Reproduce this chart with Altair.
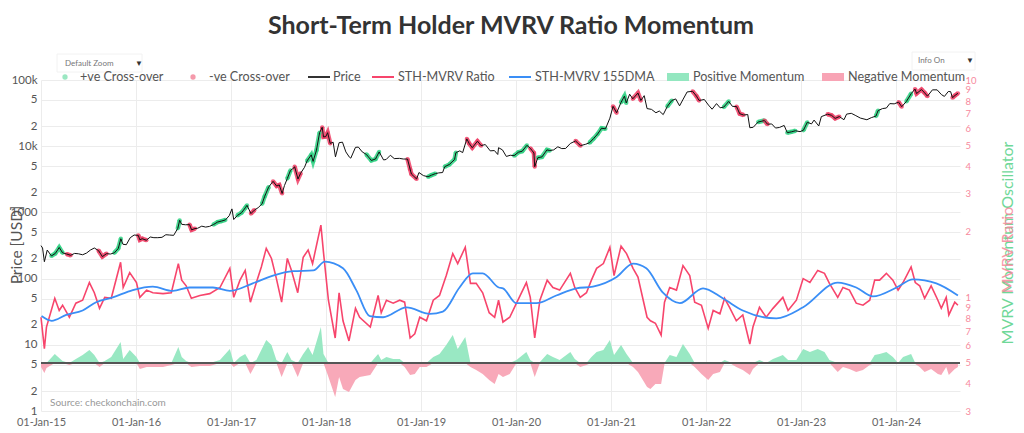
import altair as alt
import pandas as pd

TITLE = "Short-Term Holder MVRV Ratio Momentum"

# Bitcoin price (USD)
price_series = [
    ("2015-01-01", 315), ("2015-01-07", 290), ("2015-01-14", 180), ("2015-01-25", 270), ("2015-02-10", 220),
    ("2015-02-25", 240), ("2015-03-12", 295), ("2015-03-25", 245), ("2015-04-10", 235), ("2015-04-25", 225),
    ("2015-05-10", 240), ("2015-05-25", 237), ("2015-06-10", 229), ("2015-06-25", 243), ("2015-07-10", 270),
    ("2015-07-25", 290), ("2015-08-10", 265), ("2015-08-25", 215), ("2015-09-10", 238), ("2015-09-25", 235),
    ("2015-10-10", 245), ("2015-10-25", 285), ("2015-11-04", 400), ("2015-11-12", 330), ("2015-11-25", 325),
    ("2015-12-10", 415), ("2015-12-25", 455),
    ("2016-01-10", 450), ("2016-01-16", 385), ("2016-01-25", 400), ("2016-02-10", 380), ("2016-02-25", 425),
    ("2016-03-10", 415), ("2016-03-25", 415), ("2016-04-10", 420), ("2016-04-25", 460), ("2016-05-10", 455),
    ("2016-05-25", 450), ("2016-06-10", 575), ("2016-06-17", 760), ("2016-06-25", 660), ("2016-07-10", 650),
    ("2016-07-25", 655), ("2016-08-02", 545), ("2016-08-15", 570), ("2016-08-25", 575), ("2016-09-10", 620),
    ("2016-09-25", 600), ("2016-10-10", 615), ("2016-10-25", 655), ("2016-11-10", 715), ("2016-11-25", 740),
    ("2016-12-10", 770), ("2016-12-25", 895),
    ("2017-01-04", 1130), ("2017-01-11", 780), ("2017-01-25", 900), ("2017-02-10", 990), ("2017-02-25", 1180),
    ("2017-03-03", 1280), ("2017-03-18", 960), ("2017-03-31", 1080), ("2017-04-15", 1180), ("2017-04-30", 1350),
    ("2017-05-10", 1750), ("2017-05-25", 2400), ("2017-06-11", 2950), ("2017-06-25", 2500), ("2017-07-05", 2600),
    ("2017-07-16", 1930), ("2017-07-25", 2550), ("2017-08-05", 3250), ("2017-08-17", 4300), ("2017-08-30", 4700),
    ("2017-09-02", 4900), ("2017-09-15", 3200), ("2017-09-25", 3900), ("2017-10-10", 4800), ("2017-10-20", 6000),
    ("2017-11-05", 7400), ("2017-11-12", 5900), ("2017-11-25", 8700), ("2017-12-07", 16000), ("2017-12-17", 19300),
    ("2017-12-22", 13800), ("2017-12-31", 14000),
    ("2018-01-07", 16000), ("2018-01-17", 11000), ("2018-01-28", 11500), ("2018-02-06", 6900), ("2018-02-20", 11300),
    ("2018-03-05", 11500), ("2018-03-18", 8200), ("2018-04-01", 6800), ("2018-04-06", 6600), ("2018-04-24", 9600),
    ("2018-05-05", 9700), ("2018-05-20", 8200), ("2018-06-05", 7500), ("2018-06-24", 6100), ("2018-07-10", 6400),
    ("2018-07-24", 8200), ("2018-08-10", 6200), ("2018-08-20", 6300), ("2018-09-05", 7300), ("2018-09-20", 6500),
    ("2018-10-10", 6550), ("2018-10-25", 6400), ("2018-11-10", 6400), ("2018-11-20", 4500), ("2018-11-25", 3800),
    ("2018-12-15", 3200), ("2018-12-24", 4000),
    ("2019-01-10", 3600), ("2019-01-28", 3450), ("2019-02-10", 3650), ("2019-02-25", 3850), ("2019-03-10", 3950),
    ("2019-03-25", 4000), ("2019-04-02", 4900), ("2019-04-20", 5300), ("2019-05-10", 6300), ("2019-05-15", 8000),
    ("2019-05-30", 8500), ("2019-06-10", 8000), ("2019-06-26", 12900), ("2019-07-05", 11000), ("2019-07-17", 9500),
    ("2019-08-06", 11900), ("2019-08-20", 10200), ("2019-09-05", 10600), ("2019-09-24", 8500), ("2019-10-10", 8600),
    ("2019-10-23", 7500), ("2019-10-26", 9500), ("2019-11-10", 8800), ("2019-11-25", 7000), ("2019-12-10", 7300),
    ("2019-12-25", 7200),
    ("2020-01-10", 8100), ("2020-01-25", 8400), ("2020-02-12", 10300), ("2020-02-25", 9300), ("2020-03-10", 7900),
    ("2020-03-13", 4900), ("2020-03-25", 6700), ("2020-04-10", 6900), ("2020-04-29", 8800), ("2020-05-10", 8600),
    ("2020-05-25", 8800), ("2020-06-10", 9800), ("2020-06-25", 9200), ("2020-07-10", 9250), ("2020-07-28", 11000),
    ("2020-08-17", 12000), ("2020-09-05", 10200), ("2020-09-25", 10700), ("2020-10-10", 11300), ("2020-10-25", 13000),
    ("2020-11-10", 15300), ("2020-11-25", 18700), ("2020-12-10", 18300), ("2020-12-27", 26500),
    ("2021-01-08", 40000), ("2021-01-22", 32000), ("2021-02-08", 46000), ("2021-02-21", 57000), ("2021-02-28", 45000),
    ("2021-03-13", 61000), ("2021-03-25", 52000), ("2021-04-14", 63500), ("2021-04-25", 49000), ("2021-05-08", 58000),
    ("2021-05-19", 37000), ("2021-06-05", 36000), ("2021-06-22", 32000), ("2021-07-05", 34000), ("2021-07-20", 30000),
    ("2021-08-05", 40000), ("2021-08-22", 49000), ("2021-09-06", 51800), ("2021-09-21", 40700), ("2021-10-05", 51500),
    ("2021-10-20", 66000), ("2021-11-10", 67500), ("2021-11-25", 57000), ("2021-12-05", 49000), ("2021-12-25", 50800),
    ("2022-01-10", 41800), ("2022-01-24", 36200), ("2022-02-10", 44000), ("2022-02-24", 38000), ("2022-03-10", 39000),
    ("2022-03-29", 47500), ("2022-04-12", 40000), ("2022-04-28", 39700), ("2022-05-10", 31000), ("2022-05-25", 29600),
    ("2022-06-10", 30100), ("2022-06-18", 19000), ("2022-07-01", 19300), ("2022-07-20", 23200), ("2022-08-13", 24400),
    ("2022-08-25", 21500), ("2022-09-10", 21700), ("2022-09-25", 18800), ("2022-10-10", 19200), ("2022-10-28", 20600),
    ("2022-11-09", 16000), ("2022-11-25", 16500), ("2022-12-10", 17100), ("2022-12-28", 16600),
    ("2023-01-10", 17400), ("2023-01-25", 23000), ("2023-02-10", 21700), ("2023-02-20", 24800), ("2023-03-10", 20200),
    ("2023-03-20", 28000), ("2023-04-13", 30400), ("2023-04-28", 29300), ("2023-05-12", 26300), ("2023-05-28", 28000),
    ("2023-06-15", 25100), ("2023-06-25", 30500), ("2023-07-13", 31400), ("2023-07-28", 29300), ("2023-08-17", 26600),
    ("2023-09-11", 25100), ("2023-09-28", 27000), ("2023-10-16", 28500), ("2023-10-24", 34500), ("2023-11-10", 37000),
    ("2023-11-25", 37700), ("2023-12-08", 44000), ("2023-12-25", 43600),
    ("2024-01-11", 46300), ("2024-01-23", 39500), ("2024-02-10", 47500), ("2024-02-28", 62000), ("2024-03-14", 73000),
    ("2024-03-20", 62500), ("2024-04-08", 71600), ("2024-04-20", 64000), ("2024-05-01", 57000), ("2024-05-20", 71000),
    ("2024-06-07", 71000), ("2024-06-24", 60000), ("2024-07-05", 56500), ("2024-07-20", 67000), ("2024-07-29", 66700),
    ("2024-08-05", 54000), ("2024-08-15", 58500), ("2024-08-26", 63000),
]

# (date, STH-MVRV ratio, momentum oscillator)
mvrv_series = [
    ("2015-01-01", 0.81, -4), ("2015-01-14", 0.58, -10), ("2015-01-22", 0.73, -5), ("2015-02-23", 0.99, 9),
    ("2015-03-12", 0.87, 5), ("2015-03-25", 0.92, 2), ("2015-04-20", 0.81, -2), ("2015-05-15", 0.94, 4),
    ("2015-06-10", 0.97, 8), ("2015-07-06", 1.17, 13), ("2015-07-25", 1.05, 8), ("2015-08-14", 0.89, -4),
    ("2015-09-03", 1.00, 2), ("2015-09-28", 0.99, 6), ("2015-11-03", 1.45, 21), ("2015-11-13", 1.11, 4),
    ("2015-12-08", 1.30, 13), ("2016-01-03", 1.17, 6), ("2016-01-16", 1.00, -6), ("2016-02-11", 1.08, -4),
    ("2016-03-06", 1.05, -4), ("2016-04-14", 1.04, -4), ("2016-05-16", 1.05, -2), ("2016-06-12", 1.43, 16),
    ("2016-06-25", 1.20, 6), ("2016-07-12", 1.13, 2), ("2016-08-01", 0.99, -4), ("2016-09-03", 1.02, -3),
    ("2016-10-11", 1.04, -3), ("2016-11-19", 1.11, 3), ("2016-12-27", 1.36, 14), ("2017-01-11", 1.00, -4),
    ("2017-02-04", 1.20, 6), ("2017-02-24", 1.33, 9), ("2017-03-16", 0.95, -11), ("2017-04-08", 1.17, 3),
    ("2017-04-27", 1.38, 13), ("2017-05-16", 1.68, 23), ("2017-06-05", 1.51, 18), ("2017-06-24", 1.22, 3),
    ("2017-07-14", 0.95, -14), ("2017-08-05", 1.51, 11), ("2017-08-21", 1.33, 3), ("2017-09-14", 1.05, -14),
    ("2017-10-05", 1.53, 9), ("2017-10-24", 1.65, 16), ("2017-11-10", 1.43, 8), ("2017-12-12", 2.15, 36),
    ("2017-12-22", 1.61, 9), ("2018-01-10", 0.97, -14), ("2018-02-05", 0.65, -34), ("2018-02-20", 1.05, -14),
    ("2018-03-07", 0.78, -26), ("2018-03-30", 0.63, -29), ("2018-04-24", 0.89, -17), ("2018-05-10", 0.81, -14),
    ("2018-06-20", 0.73, -12), ("2018-07-20", 1.02, 9), ("2018-08-01", 0.85, 3), ("2018-08-21", 0.97, 6),
    ("2018-09-16", 0.94, 4), ("2018-10-11", 0.97, 4), ("2018-10-30", 0.95, -4), ("2018-11-20", 0.65, -12),
    ("2018-12-08", 0.68, -11), ("2018-12-27", 0.81, -4), ("2019-01-22", 0.78, -4), ("2019-02-17", 0.97, 6),
    ("2019-03-13", 1.02, 9), ("2019-04-08", 1.26, 18), ("2019-05-03", 1.59, 28), ("2019-05-22", 1.43, 14),
    ("2019-06-20", 1.70, 26), ("2019-07-10", 1.16, -4), ("2019-08-01", 1.16, -7), ("2019-08-26", 1.05, -11),
    ("2019-09-20", 0.85, -17), ("2019-10-11", 0.81, -21), ("2019-10-26", 0.97, -11), ("2019-11-12", 0.77, -14),
    ("2019-12-08", 0.81, -11), ("2020-01-03", 0.94, 3), ("2020-02-10", 1.17, 11), ("2020-02-25", 1.00, 3),
    ("2020-03-13", 0.65, -14), ("2020-04-02", 0.97, 1), ("2020-04-30", 1.20, 9), ("2020-05-22", 1.11, 6),
    ("2020-06-17", 1.08, 3), ("2020-07-28", 1.29, 11), ("2020-08-14", 1.11, 4), ("2020-09-04", 1.00, -4),
    ("2020-09-28", 1.05, -2), ("2020-10-17", 1.20, 6), ("2020-11-06", 1.36, 11), ("2020-12-02", 1.43, 13),
    ("2020-12-27", 1.70, 23), ("2021-01-12", 1.26, 8), ("2021-02-08", 1.72, 18), ("2021-03-01", 1.59, 9),
    ("2021-03-26", 1.36, -4), ("2021-04-14", 1.24, -9), ("2021-05-19", 0.81, -24), ("2021-06-01", 0.78, -26),
    ("2021-06-20", 0.76, -21), ("2021-07-12", 0.67, -21), ("2021-07-25", 0.95, -1), ("2021-08-14", 1.11, 8),
    ("2021-09-09", 1.08, 6), ("2021-10-04", 1.40, 19), ("2021-10-30", 1.26, 9), ("2021-11-18", 0.95, -4),
    ("2021-12-14", 0.92, -11), ("2022-01-09", 0.72, -17), ("2022-01-28", 0.87, -11), ("2022-02-23", 0.84, -9),
    ("2022-03-13", 0.99, 3), ("2022-04-01", 0.90, 1), ("2022-04-27", 0.78, -4), ("2022-05-22", 0.83, -7),
    ("2022-06-18", 0.61, -12), ("2022-06-30", 0.73, -6), ("2022-07-25", 0.90, 3), ("2022-08-20", 0.81, -1),
    ("2022-09-15", 0.89, 4), ("2022-10-23", 1.00, 8), ("2022-11-12", 0.87, 3), ("2022-12-14", 0.97, 3),
    ("2023-01-09", 1.22, 14), ("2023-02-04", 1.17, 11), ("2023-03-06", 1.33, 14), ("2023-04-01", 1.29, 11),
    ("2023-04-20", 1.16, 3), ("2023-05-22", 1.00, -9), ("2023-06-11", 1.11, -4), ("2023-07-06", 1.08, -6),
    ("2023-08-01", 0.94, -9), ("2023-08-27", 0.92, -7), ("2023-09-22", 0.97, -2), ("2023-10-11", 1.20, 8),
    ("2023-10-30", 1.20, 9), ("2023-11-25", 1.29, 11), ("2023-12-20", 1.20, 6), ("2024-01-09", 1.08, -1),
    ("2024-01-28", 1.17, 6), ("2024-02-28", 1.38, 9), ("2024-03-15", 1.17, -1), ("2024-04-01", 1.13, -4),
    ("2024-04-20", 0.99, -9), ("2024-05-15", 1.13, -6), ("2024-06-10", 0.97, -11), ("2024-06-23", 0.89, -12),
    ("2024-07-12", 1.00, -4), ("2024-07-22", 0.83, -12), ("2024-08-14", 0.95, -6), ("2024-08-26", 0.92, -4),
]

# STH-MVRV 155-day moving average
dma_series = [
    ("2015-01-03", 0.82), ("2015-02-11", 0.78), ("2015-04-08", 0.83), ("2015-06-10", 0.87), ("2015-08-01", 0.95),
    ("2015-10-04", 1.00), ("2015-12-20", 1.08), ("2016-03-06", 1.12), ("2016-05-22", 1.07), ("2016-07-25", 1.11),
    ("2016-10-23", 1.11), ("2016-12-27", 1.07), ("2017-03-25", 1.16), ("2017-06-11", 1.26), ("2017-08-27", 1.32),
    ("2017-11-13", 1.33), ("2017-12-27", 1.46), ("2018-03-07", 1.36), ("2018-04-27", 1.08), ("2018-06-18", 0.82),
    ("2018-08-08", 0.81), ("2018-11-06", 0.90), ("2019-02-04", 0.84), ("2019-03-26", 0.86), ("2019-05-29", 1.11),
    ("2019-07-19", 1.29), ("2019-08-26", 1.29), ("2019-10-27", 1.11), ("2019-11-12", 1.10), ("2020-01-03", 0.94),
    ("2020-03-19", 0.94), ("2020-06-04", 1.02), ("2020-08-20", 1.10), ("2020-10-23", 1.12), ("2021-01-22", 1.24),
    ("2021-03-26", 1.43), ("2021-05-16", 1.36), ("2021-07-19", 1.05), ("2021-09-22", 0.94), ("2021-12-20", 1.10),
    ("2022-03-06", 0.99), ("2022-05-22", 0.87), ("2022-09-28", 0.80), ("2023-01-09", 0.90), ("2023-05-22", 1.17),
    ("2023-08-01", 1.11), ("2023-10-04", 1.01), ("2024-01-03", 1.11), ("2024-03-06", 1.21), ("2024-06-04", 1.16),
    ("2024-08-26", 1.02),
]

pos_cross_ranges = [
    ("2015-02-04", "2015-03-25"), ("2015-09-30", "2015-11-07"), ("2016-05-28", "2016-06-17"),
    ("2016-10-18", "2016-12-16"), ("2017-01-15", "2017-03-03"), ("2017-04-21", "2017-05-29"),
    ("2017-07-26", "2017-08-22"), ("2017-10-11", "2017-12-08"), ("2018-05-21", "2018-08-07"),
    ("2019-01-23", "2019-03-03"), ("2019-04-01", "2019-05-20"), ("2019-12-20", "2020-02-13"),
    ("2020-03-20", "2020-05-21"), ("2020-09-30", "2020-12-10"), ("2021-01-27", "2021-03-04"),
    ("2021-07-26", "2021-09-03"), ("2022-03-06", "2022-04-01"), ("2022-07-07", "2022-08-07"),
    ("2022-11-07", "2022-12-16"), ("2023-01-08", "2023-02-03"), ("2023-10-04", "2023-10-30"),
    ("2024-02-03", "2024-03-06"),
]
neg_cross_ranges = [
    ("2015-04-01", "2015-04-30"), ("2015-08-07", "2015-09-10"), ("2016-01-05", "2016-02-13"),
    ("2016-07-15", "2016-08-22"), ("2017-03-07", "2017-04-01"), ("2017-06-05", "2017-07-18"),
    ("2017-09-02", "2017-10-04"), ("2017-12-10", "2018-01-27"), ("2018-11-07", "2018-12-16"),
    ("2019-06-25", "2019-08-25"), ("2020-02-23", "2020-03-20"), ("2020-08-13", "2020-09-22"),
    ("2021-01-04", "2021-01-22"), ("2021-03-21", "2021-05-03"), ("2021-11-10", "2021-12-19"),
    ("2022-04-21", "2022-06-05"), ("2022-08-13", "2022-09-01"), ("2023-04-13", "2023-05-30"),
    ("2023-12-28", "2024-01-22"), ("2024-03-14", "2024-05-03"), ("2024-08-03", "2024-08-26"),
]

year_ticks = [2015, 2016, 2017, 2018, 2019, 2020, 2021, 2022, 2023, 2024]
price_ticks = [1, 2, 5, 10, 20, 50, 100, 200, 500, 1000, 2000, 5000, 10000, 20000, 50000, 100000]
ratio_ticks = [0.3, 0.4, 0.5, 0.6, 0.7, 0.8, 0.9, 1, 2, 3, 4, 5, 6, 7, 8, 9, 10]

legend_labels = ["+ve Cross-over", "-ve Cross-over", "Price", "STH-MVRV Ratio",
                 "STH-MVRV 155DMA", "Positive Momentum", "Negative Momentum"]

# ---------------- styling ----------------
FONT = "Lato"
W, H = 919, 331
C_GREEN = "#2fd183"
C_RED = "#ef3f66"
C_RATIO = "#f7456c"
C_DMA = "#3a8ef6"
C_POS = "#93e7c0"
C_NEG = "#f8a4b5"

price_df = pd.DataFrame(price_series, columns=["date", "price"])
price_df["date"] = pd.to_datetime(price_df["date"])
mvrv_df = pd.DataFrame(mvrv_series, columns=["date", "mvrv", "osc"])
mvrv_df["date"] = pd.to_datetime(mvrv_df["date"])
mvrv_df["pos"] = mvrv_df["osc"].clip(lower=0)
mvrv_df["neg"] = mvrv_df["osc"].clip(upper=0)
dma_df = pd.DataFrame(dma_series, columns=["date", "dma"])
dma_df["date"] = pd.to_datetime(dma_df["date"])

segs = []
for kind, ranges in (("pos", pos_cross_ranges), ("neg", neg_cross_ranges)):
    for i, (s, e) in enumerate(ranges):
        s, e = pd.Timestamp(s), pd.Timestamp(e)
        sub = price_df[(price_df["date"] >= s) & (price_df["date"] <= e)]
        if len(sub) < 2:
            sub = price_df[price_df["date"] >= s].head(2)
        for d, p in zip(sub["date"], sub["price"]):
            segs.append({"date": d, "price": p, "kind": kind, "seg": f"{kind}{i}"})
seg_df = pd.DataFrame(segs)

x_scale = alt.Scale(domain=[alt.DateTime(year=2015, month=1, date=1),
                            alt.DateTime(year=2024, month=9, date=3)])
x_axis = alt.Axis(values=[alt.DateTime(year=y, month=1, date=1) for y in year_ticks],
                  format="%d-%b-%y", labelFont=FONT, labelFontSize=11, labelColor="#666",
                  grid=True, gridColor="#ececec", ticks=False, domain=False,
                  labelPadding=5, labelFlush=False, labelOverlap=False, title=None)
X = alt.X("date:T", scale=x_scale, axis=x_axis)

price_scale = alt.Scale(type="log", domain=[1, 100000], nice=False)
price_axis = alt.Axis(orient="left", values=price_ticks, grid=True, gridColor="#ececec",
                      ticks=False, domain=False, labelFont=FONT, labelFontSize=11.5,
                      labelColor="#555", labelPadding=4, title=None, labelOverlap=False,
                      labelExpr=("datum.value>=100000?'100k':datum.value==10000?'10k':"
                                 "indexof([1,10,100,1000],datum.value)>=0?format(datum.value,'d'):"
                                 "format(datum.value/pow(10,floor(log(datum.value*1.0001)/LN10)),'d')"))
ratio_scale = alt.Scale(type="log", domain=[0.3, 10], nice=False)
ratio_axis = alt.Axis(orient="right", values=ratio_ticks, grid=False, ticks=False, domain=False,
                      labelFont=FONT, labelFontSize=9.5, labelColor="#f7899d", labelPadding=5,
                      title=None, labelOverlap=False, labelBound=False,
                      labelExpr="datum.value<0.95?format(datum.value*10,'d'):format(datum.value,'d')")
osc_scale = alt.Scale(domain=[-48, 283], nice=False, zero=False)

# oscillator
pos_area = alt.Chart(mvrv_df).mark_area(color=C_POS, opacity=0.95).encode(
    x=X, y=alt.Y("pos:Q", scale=osc_scale, axis=None), y2=alt.datum(0))
neg_area = alt.Chart(mvrv_df).mark_area(color=C_NEG, opacity=0.95).encode(
    x=X, y=alt.Y("neg:Q", scale=osc_scale, axis=None), y2=alt.datum(0))
zero_line = alt.Chart(mvrv_df).mark_rule(color="#555", strokeWidth=2).encode(
    y=alt.datum(0, scale=osc_scale, axis=None), x=alt.value(0), x2=alt.value(W))
g_osc = alt.layer(pos_area, neg_area, zero_line)

# price
seg_color = alt.Color("kind:N", scale=alt.Scale(domain=["pos", "neg"], range=[C_GREEN, C_RED]), legend=None)
seg_line = alt.Chart(seg_df).mark_line(strokeWidth=4.5, opacity=0.85).encode(
    x=X, y=alt.Y("price:Q", scale=price_scale, axis=price_axis), color=seg_color, detail="seg:N")
seg_pts = alt.Chart(seg_df).mark_circle(size=18, opacity=0.85).encode(
    x=X, y=alt.Y("price:Q", scale=price_scale, axis=price_axis), color=seg_color)
price_line = alt.Chart(price_df).mark_line(color="#111", strokeWidth=1).encode(
    x=X, y=alt.Y("price:Q", scale=price_scale, axis=price_axis))
g_price = alt.layer(seg_line, seg_pts, price_line)

# ratio
ratio_line = alt.Chart(mvrv_df).mark_line(color=C_RATIO, strokeWidth=1.6).encode(
    x=X, y=alt.Y("mvrv:Q", scale=ratio_scale, axis=ratio_axis))
dma_line = alt.Chart(dma_df).mark_line(color=C_DMA, strokeWidth=1.8, interpolate="monotone").encode(
    x=X, y=alt.Y("dma:Q", scale=ratio_scale, axis=ratio_axis))
g_ratio = alt.layer(ratio_line, dma_line)

# ---------------- annotations ----------------
one = pd.DataFrame({"k": [0]})


def txt(x, y, s, size=13, color="#555", weight="normal", align="left", angle=0, opacity=1):
    return alt.Chart(one).mark_text(text=s, fontSize=size, color=color, fontWeight=weight, font=FONT,
                                    align=align, baseline="middle", angle=angle, opacity=opacity).encode(
        x=alt.value(x), y=alt.value(y))


def hline(x1, x2, y, color, width=2):
    return alt.Chart(one).mark_rule(color=color, strokeWidth=width).encode(
        x=alt.value(x1), x2=alt.value(x2), y=alt.value(y))


def box(x1, x2, y1, y2, fill, stroke=None):
    kw = {"fill": fill}
    if stroke:
        kw["stroke"] = stroke
        kw["strokeWidth"] = 1
    return alt.Chart(one).mark_rect(**kw).encode(
        x=alt.value(x1), x2=alt.value(x2), y=alt.value(y1), y2=alt.value(y2))


def dot(x, y, color):
    return alt.Chart(one).mark_circle(size=28, color=color, opacity=1).encode(x=alt.value(x), y=alt.value(y))


LY = -3
LS = 12.6
annot = [
    txt(470, -54, TITLE, size=25, color="#333", weight="bold", align="center"),
    box(16, 101, -26, -8, "white", "#f2f2f2"),
    txt(24, -16, "Default Zoom", size=8, color="#777"),
    txt(94, -16, "▼", size=8, color="#333"),
    box(871, 934, -28, -10, "white", "#f2f2f2"),
    txt(877, -19, "Info On", size=8, color="#777"),
    txt(925, -19, "▼", size=8, color="#333"),
    dot(24, LY, "#9be7c2"), txt(39, LY, legend_labels[0], size=LS),
    dot(152, LY, "#f59aab"), txt(168, LY, legend_labels[1], size=LS),
    hline(267, 289, LY, "#333"), txt(292, LY, legend_labels[2], size=LS),
    hline(331, 353, LY, C_RATIO), txt(357, LY, legend_labels[3], size=LS),
    hline(468, 490, LY, C_DMA), txt(494, LY, legend_labels[4], size=LS),
    box(626, 648, LY - 4, LY + 4, C_POS), txt(652, LY, legend_labels[5], size=LS),
    box(781, 803, LY - 4, LY + 4, C_NEG), txt(807, LY, legend_labels[6], size=LS),
    txt(9, 323, "Source: checkonchain.com", size=10, color="#999"),
    txt(-24, 165, "Price [USD]", size=15.5, color="#555", align="center", angle=270),
    txt(967, 163, "MVRV Momentum Oscillator", size=16, color="#6fd898", align="center", angle=270),
    txt(967, 170, "MVRV Ratio", size=16, color="#f6889c", align="center", angle=270, opacity=0.85),
]

chart = alt.layer(g_osc, g_price, g_ratio, *annot).resolve_scale(y="independent").properties(
    width=W, height=H,
    autosize=alt.AutoSizeParams(type="none"),
    padding={"left": 33, "top": 72, "right": 56, "bottom": 16},
    background="white",
).configure_view(stroke=None)

chart.save("out.html", embed_options={"renderer": "svg", "actions": False})
